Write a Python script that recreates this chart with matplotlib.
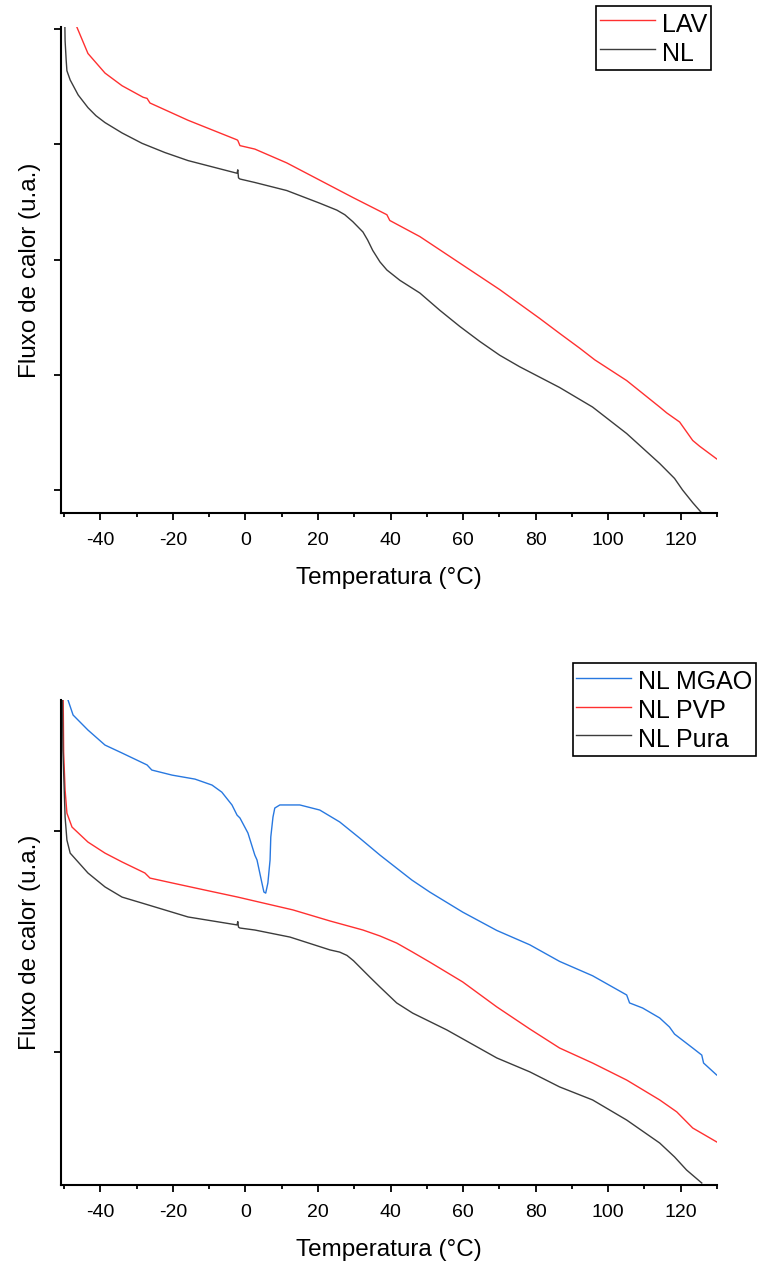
import matplotlib
matplotlib.use("Agg")
import matplotlib.pyplot as plt
from matplotlib.ticker import MultipleLocator, FixedLocator, NullFormatter

plt.rcParams['font.family'] = ['Liberation Sans', 'DejaVu Sans']
plt.rcParams['axes.unicode_minus'] = False

# ---------------- data (top panel) ----------------
lav_T = [-47.8, -43.4, -38.7, -34.0, -28.2, -27.1, -26.3, -15.8, -2.3, -2.1, -1.5, 2.6,
         11.4, 20.5, 29.6, 39.0, 39.8, 48.1, 59.1, 70.1, 81.1, 86.6, 92.2, 96.3,
         105.1, 114.2, 116.1, 119.7, 123.3, 125.2, 129.9]
lav_v = [4.12, 3.79, 3.62, 3.51, 3.41, 3.40, 3.36, 3.21, 3.04, 3.035, 2.99, 2.96,
         2.84, 2.69, 2.54, 2.39, 2.34, 2.20, 1.97, 1.74, 1.49, 1.36, 1.23, 1.13,
         0.95, 0.72, 0.67, 0.59, 0.43, 0.38, 0.27]

nl_T = [-49.9, -49.7, -49.4, -49.2, -48.3, -46.1, -43.4, -41.2, -38.7, -34.0, -28.5, -22.2,
        -15.8, -2.3, -2.1, -1.9, -1.5, 2.6, 11.4, 20.5, 25.2, 27.4, 29.6, 32.4,
        33.7, 35.1, 37.1, 39.0, 40.6, 42.6, 48.1, 53.6, 59.1, 64.6, 70.1, 75.6,
        81.1, 86.6, 95.7, 105.1, 114.2, 118.3, 120.5, 123.3, 125.8]
nl_v = [4.30, 3.90, 3.73, 3.64, 3.56, 3.43, 3.32, 3.25, 3.19, 3.10, 3.01, 2.93,
        2.86, 2.75, 2.78, 2.71, 2.70, 2.67, 2.60, 2.49, 2.43, 2.39, 2.33, 2.24,
        2.17, 2.08, 1.98, 1.91, 1.87, 1.82, 1.71, 1.56, 1.42, 1.29, 1.17, 1.07,
        0.98, 0.89, 0.72, 0.49, 0.23, 0.10, 0.00, -0.11, -0.20]

# ---------------- data (bottom panel) ----------------
mgao_T = [-50.0, -48.9, -47.5, -43.4, -38.7, -34.0, -27.1, -25.8, -20.2, -13.9, -9.2, -6.5,
          -3.7, -2.3, -1.5, 0.7, 2.6, 3.2, 4.5, 5.1, 5.6, 6.2, 6.8, 7.0,
          7.6, 8.1, 9.5, 15.0, 20.5, 26.0, 31.5, 37.1, 45.9, 50.8, 59.9, 69.3,
          78.4, 86.6, 95.7, 105.1, 105.9, 109.5, 114.2, 116.9, 118.3, 123.3, 125.8, 126.3,
          129.9]
mgao_v = [1.70, 1.593, 1.525, 1.457, 1.389, 1.353, 1.299, 1.276, 1.253, 1.235, 1.208, 1.176,
          1.118, 1.072, 1.059, 0.991, 0.891, 0.869, 0.769, 0.724, 0.719, 0.765, 0.869, 0.973,
          1.063, 1.104, 1.118, 1.118, 1.095, 1.041, 0.968, 0.891, 0.778, 0.724, 0.633, 0.550,
          0.485, 0.410, 0.345, 0.258, 0.222, 0.199, 0.154, 0.113, 0.081, 0.018, -0.014, -0.050,
          -0.104]

pvp_T = [-50.3, -50.1, -49.7, -49.2, -47.8, -43.4, -38.7, -34.0, -27.7, -26.3, -20.2, -11.2,
         -2.1, 2.6, 13.1, 23.3, 32.4, 37.1, 41.7, 46.1, 50.8, 59.9, 69.3, 78.4,
         86.6, 95.7, 105.1, 114.2, 118.9, 123.3, 129.9]
pvp_v = [1.75, 1.357, 1.186, 1.081, 1.018, 0.950, 0.900, 0.860, 0.810, 0.787, 0.765, 0.733,
         0.701, 0.683, 0.643, 0.593, 0.552, 0.525, 0.493, 0.452, 0.407, 0.317, 0.204, 0.104,
         0.018, -0.050, -0.127, -0.217, -0.271, -0.344, -0.407]

pura_T = [-50.5, -50.3, -49.7, -49.2, -48.3, -43.4, -38.7, -34.0, -28.5, -15.8, -2.3, -2.1,
          -1.9, -1.5, 2.6, 12.3, 23.3, 26.0, 28.0, 29.8, 31.5, 34.3, 37.1, 41.7,
          46.1, 55.5, 69.3, 78.4, 86.6, 95.7, 105.1, 114.2, 118.3, 121.6, 125.8]
pura_v = [1.75, 1.367, 1.063, 0.959, 0.900, 0.810, 0.747, 0.701, 0.674, 0.611, 0.575, 0.590,
          0.565, 0.561, 0.552, 0.520, 0.462, 0.452, 0.437, 0.413, 0.385, 0.339, 0.294, 0.222,
          0.176, 0.100, -0.027, -0.090, -0.158, -0.217, -0.308, -0.412, -0.475, -0.534, -0.593]

x_ticks = [-40, -20, 0, 20, 40, 60, 80, 100, 120]
top_yticks = [0, 1, 2, 3, 4]
bot_yticks = [0, 1]

RED = '#FF3030'
BLACK = '#3C3C3C'
BLUE = '#2878E0'
LW = 1.0

W, H = 758, 1269
fig = plt.figure(figsize=(W / 100, H / 100), dpi=100)

ax1 = fig.add_axes([61 / W, (H - 513) / H, 656 / W, (513 - 27) / H])
ax2 = fig.add_axes([61 / W, (H - 1185) / H, 656 / W, (1185 - 700) / H])

ax1.plot(lav_T, lav_v, color=RED, lw=LW, label='LAV')
ax1.plot(nl_T, nl_v, color=BLACK, lw=LW, label='NL')
ax1.set_ylim(-0.2, 4.02)
ax1.yaxis.set_major_locator(FixedLocator(top_yticks))

ax2.plot(mgao_T, mgao_v, color=BLUE, lw=LW, label='NL MGAO')
ax2.plot(pvp_T, pvp_v, color=RED, lw=LW, label='NL PVP')
ax2.plot(pura_T, pura_v, color=BLACK, lw=LW, label='NL Pura')
ax2.set_ylim(-0.602, 1.593)
ax2.yaxis.set_major_locator(FixedLocator(bot_yticks))

for ax in (ax1, ax2):
    ax.set_xlim(-50.83, 130)
    ax.xaxis.set_major_locator(FixedLocator(x_ticks))
    ax.xaxis.set_minor_locator(MultipleLocator(10))
    ax.yaxis.set_major_formatter(NullFormatter())
    ax.spines['top'].set_visible(False)
    ax.spines['right'].set_visible(False)
    for s in ('left', 'bottom'):
        ax.spines[s].set_linewidth(1.5)
    ax.tick_params(axis='both', which='major', direction='out', length=5, width=1.3,
                   labelsize=14, pad=9)
    ax.tick_params(axis='x', which='minor', direction='out', length=2.8, width=1.3)
    ax.set_xlabel('Temperatura (°C)', fontsize=17.5)
    ax.set_ylabel('Fluxo de calor (u.a.)', fontsize=17.5)
    ax.yaxis.set_label_coords(-0.030, 0.5)

ax1.xaxis.set_label_coords(0.5, -(567 - 513) / 486)
ax2.xaxis.set_label_coords(0.5, -(1239 - 1185) / 485)

leg_kw = dict(loc='upper right', bbox_transform=fig.transFigure, fontsize=18,
              frameon=True, fancybox=False, edgecolor='black', framealpha=1,
              handlelength=2.2, handletextpad=0.3, borderpad=0.13,
              handleheight=1.4, labelspacing=0.0, borderaxespad=0)
leg1 = ax1.legend(bbox_to_anchor=(710.7 / W, 1 - 5.7 / H), **leg_kw)
leg1.get_frame().set_linewidth(1.2)
leg2 = ax2.legend(bbox_to_anchor=(756 / W, 1 - 663 / H), **leg_kw)
leg2.get_frame().set_linewidth(1.2)

fig.savefig('out.png', dpi=100)
